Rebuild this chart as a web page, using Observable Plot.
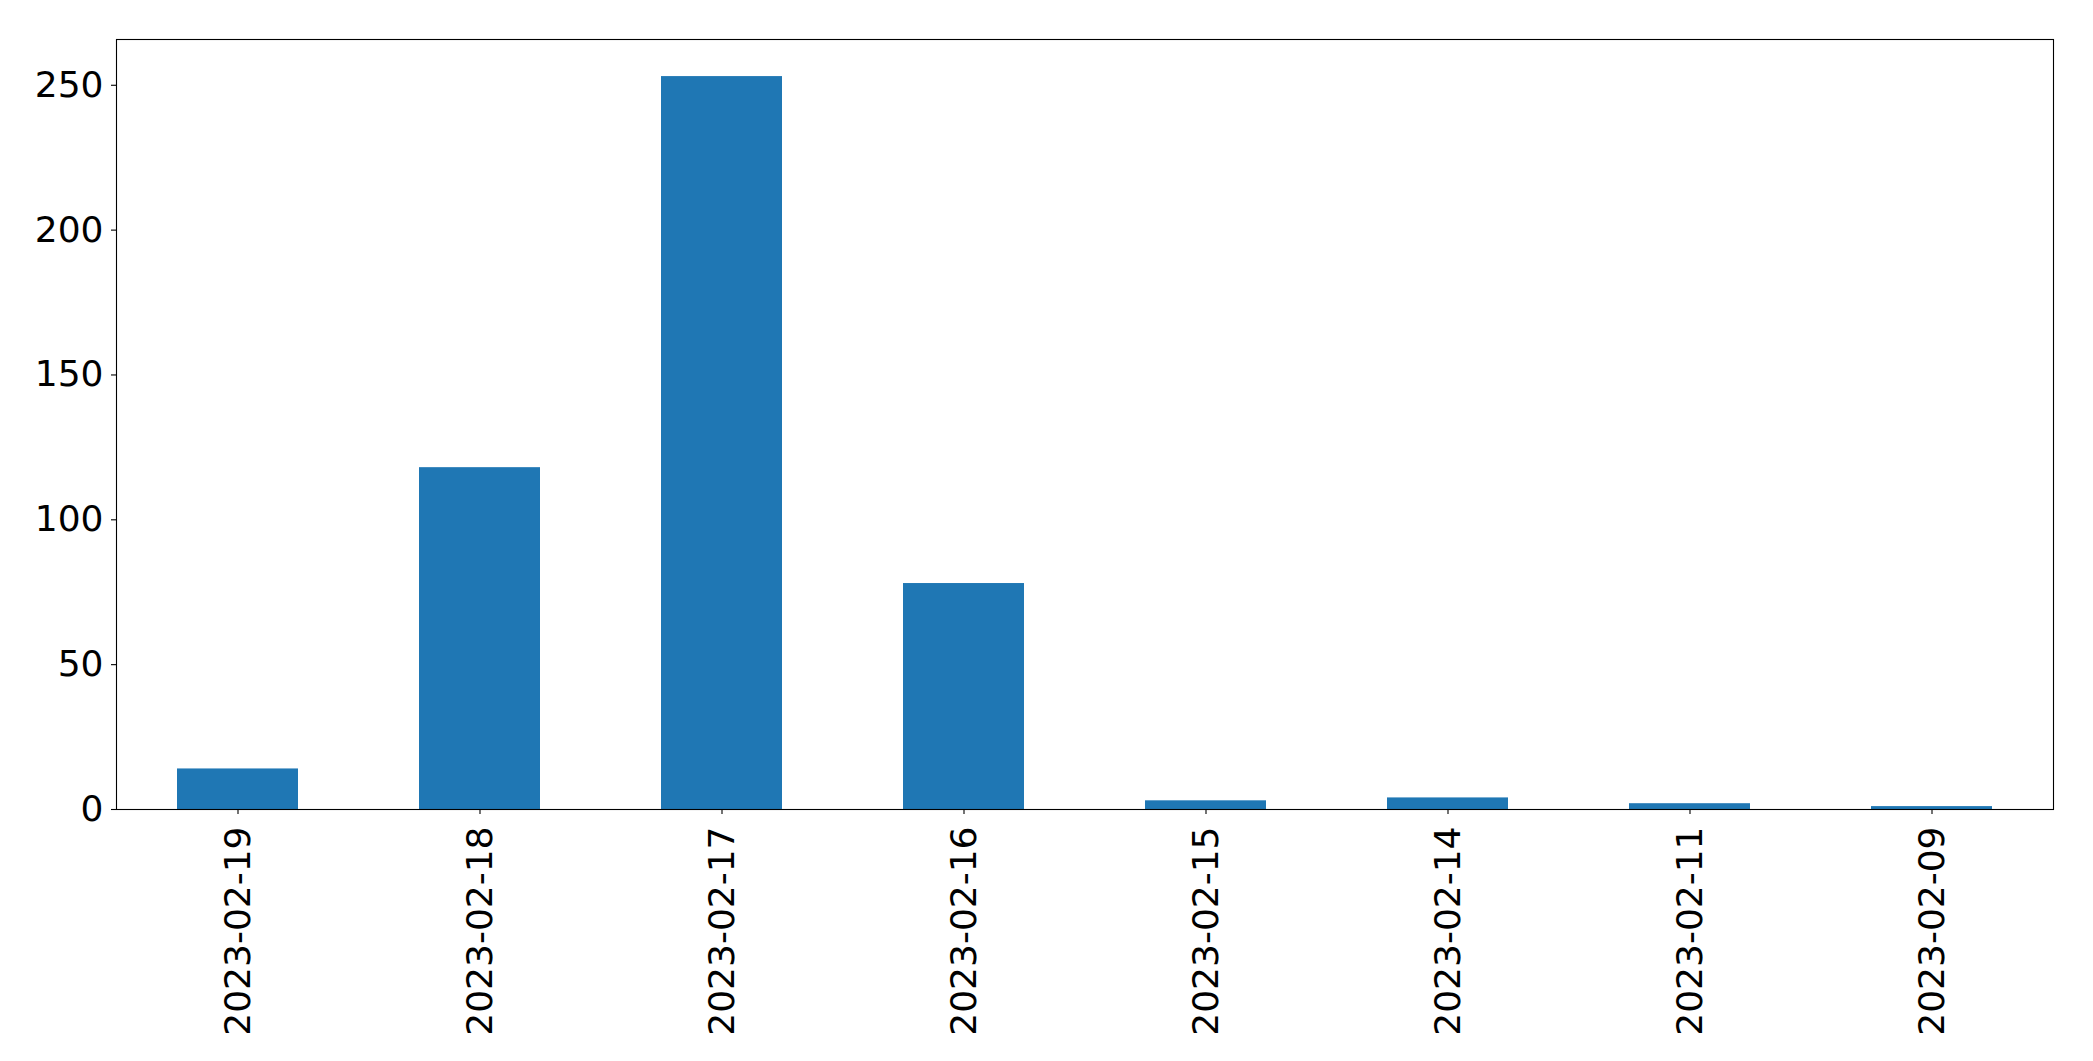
<!DOCTYPE html>
<html>
<head>
<meta charset="utf-8">
<script src="https://cdn.jsdelivr.net/npm/d3@7"></script>
<script src="https://cdn.jsdelivr.net/npm/@observablehq/plot@0.6"></script>
<style>
  html, body { margin: 0; padding: 0; background: #fff; }
  #chart svg { display: block; }
</style>
</head>
<body>
<div id="chart"></div>
<script>
const dates = ["2023-02-19", "2023-02-18", "2023-02-17", "2023-02-16", "2023-02-15", "2023-02-14", "2023-02-11", "2023-02-09"];
const counts = [14, 118, 253, 78, 3, 4, 2, 1];
const yTicks = [0, 50, 100, 150, 200, 250];

const data = dates.map((d, i) => ({date: d, count: counts[i]}));

const chart = Plot.plot({
  width: 2093,
  height: 1061,
  marginLeft: 116,
  marginRight: 40,
  marginTop: 39,
  marginBottom: 252,
  style: {fontFamily: "DejaVu Sans", fontSize: "36px", color: "#000", background: "#fff"},
  x: {domain: dates, paddingInner: 0.5, paddingOuter: 0.25, label: null},
  y: {domain: [0, 265.8], label: null},
  marks: [
    Plot.barY(data, {x: "date", y: "count", fill: "#1f77b4"}),
    Plot.axisY({ticks: yTicks, tickSize: 5, tickPadding: 8, label: null, fontSize: 36, stroke: "#000", strokeWidth: 1.1}),
    Plot.axisX({tickSize: 5, tickPadding: 12, tickRotate: -90, label: null, fontSize: 36, strokeWidth: 1.1}),
    Plot.frame({stroke: "#000", strokeWidth: 1.1})
  ]
});
document.getElementById("chart").appendChild(chart);
</script>
</body>
</html>
